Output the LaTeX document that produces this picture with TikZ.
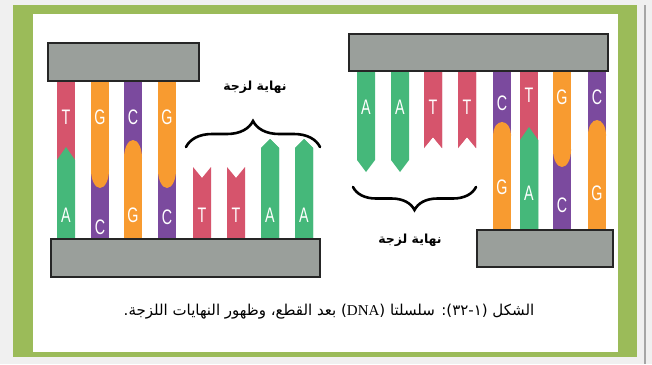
\documentclass[tikz,border=0pt]{standalone}
\usepackage{fontspec}
\usetikzlibrary{decorations.pathreplacing}
\TeXXeTstate=1
\newfontfamily\arabicfont[Script=Arabic]{DejaVu Sans}
\newfontfamily\basefont{Liberation Sans}
\newfontfamily\latinfont{Liberation Serif}

\definecolor{paper}{HTML}{F0F0F0}
\definecolor{frame}{HTML}{9BBB59}
\definecolor{barfill}{HTML}{9A9F9B}
\definecolor{thy}{HTML}{D6546C}
\definecolor{ade}{HTML}{45B87A}
\definecolor{gua}{HTML}{F89B30}
\definecolor{cyt}{HTML}{7B4A9E}

\tikzset{
  bar/.style={fill=barfill, draw=black!85, line width=1.6pt},
  base/.style={text=white, font=\basefont\fontsize{21}{21}\selectfont, inner sep=0pt},
  brace/.style={decorate, decoration={brace, amplitude=#1}, line width=2.6pt, line cap=round},
  arlabel/.style={font=\arabicfont\bfseries\fontsize{12.5}{12.5}\selectfont, inner sep=0pt},
  caption/.style={font=\arabicfont\fontsize{15}{15}\selectfont, inner sep=0pt},
}

% strand end: fixed side at a, shoulders at b, tip (or notch) at c
\newcommand{\strandend}[5]{\fill[#5] (#1,#2) -- (#1,#3) -- (#1+9,#4) -- (#1+18,#3) -- (#1+18,#2) -- cycle;}
% base pair, lower base pointed: x, top, bottom, shoulder, upper, lower
\newcommand{\pairpoint}[6]{\fill[#5] (#1,#2) rectangle (#1+18,#3); \strandend{#1}{#3}{#4}{#4-13}{#6}}
% base pair, upper base rounded: x, top, bottom, split, depth, upper, lower
\newcommand{\pairdown}[7]{\fill[#7] (#1,#2) rectangle (#1+18,#3);
  \fill[#6] (#1,#2) rectangle (#1+18,#4);
  \fill[#6] (#1+9,#4) ellipse [x radius=9, y radius=#5];}
% base pair, lower base rounded
\newcommand{\pairup}[7]{\fill[#6] (#1,#2) rectangle (#1+18,#3);
  \fill[#7] (#1,#4) rectangle (#1+18,#3);
  \fill[#7] (#1+9,#4) ellipse [x radius=9, y radius=#5];}
\newcommand{\nuc}[1]{\scalebox{.68}[1]{#1}}

\begin{document}
\begin{tikzpicture}[x=1pt, y=-1pt]
  \useasboundingbox (0,0) rectangle (652,364);
  \fill[paper] (0,0) rectangle (652,364);
  \fill[frame] (13,5) rectangle (637,357);
  \fill[white] (33,14) rectangle (618,352);
  \draw[black!35, line width=2pt] (645,5) -- (645,364);

  % left piece
  \pairpoint{57}{78}{242}{160}{thy}{ade}
  \pairdown{91}{78}{242}{170}{18}{gua}{cyt}
  \pairup{124}{78}{242}{158}{18}{cyt}{gua}
  \pairdown{158}{78}{242}{170}{18}{gua}{cyt}
  \foreach \x in {193,227} \strandend{\x}{242}{167}{178}{thy}
  \foreach \x in {261,295} \strandend{\x}{242}{148}{139}{ade}
  \draw[bar] (48,43) rectangle (199,81);
  \draw[bar] (51,239) rectangle (320,277);

  % right piece
  \foreach \x in {357,391} \strandend{\x}{68}{160}{172}{ade}
  \foreach \x in {424,458} \strandend{\x}{68}{148}{137}{thy}
  \pairup{493}{68}{233}{135}{13}{cyt}{gua}
  \pairpoint{520}{68}{233}{140}{thy}{ade}
  \pairdown{553}{68}{233}{150}{17}{gua}{cyt}
  \pairup{588}{68}{233}{135}{15}{cyt}{gua}
  \draw[bar] (349,34) rectangle (608,71);
  \draw[bar] (477,230) rectangle (613,267);

  % bases
  \foreach \x/\y/\l [count=\i] in {66/117/T, 100/117/G, 133/117/C, 167/117/G,
      66/215/A, 100/227/C, 133/215/G, 167/217/C,
      202/215/T, 236/215/T, 270/215/A, 304/215/A,
      366/107/A, 400/107/A, 433/107/T, 467/107/T,
      502/103/C, 529/95/T, 562/97/G, 597/97/C,
      502/187/G, 529/193/A, 562/205/C, 597/193/G}
    \node[base] (b\i) at (\x,\y) {\nuc{\l}};

  % sticky ends
  \coordinate (lbrace1) at (186,147);
  \coordinate (lbrace2) at (320,147);
  \coordinate (rbrace1) at (476,187);
  \coordinate (rbrace2) at (353,187);
  \draw[brace=26pt] (lbrace1) -- (lbrace2);
  \draw[brace=23pt] (rbrace1) -- (rbrace2);
  \node[arlabel] (lsticky) at (255,87) {\beginR نهاية لزجة\endR};
  \node[arlabel] (rsticky) at (410,240) {\beginR نهاية لزجة\endR};

  \node[caption] (cap) at (329,312) {\beginR الشكل (١-٣٢): سلسلتا ({\latinfont\beginL DNA\endL}) بعد القطع، وظهور النهايات اللزجة.\endR};
\end{tikzpicture}
\end{document}
